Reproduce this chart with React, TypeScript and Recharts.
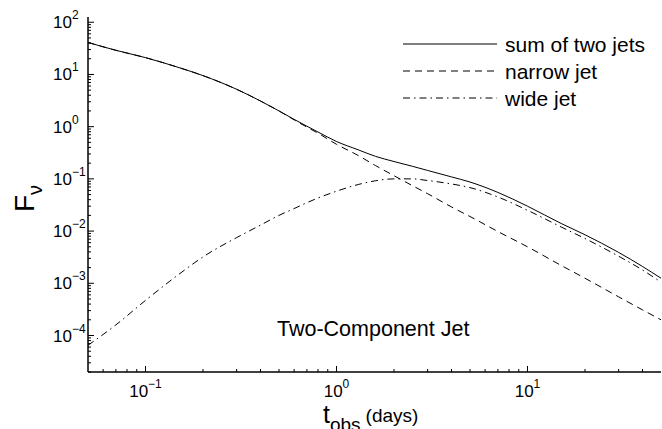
import React from 'react';
import { LineChart, Line, XAxis, YAxis, Customized } from 'recharts';

// Observation time (days)
const tDays = [0.05, 0.07, 0.1, 0.15, 0.2, 0.3, 0.4, 0.5, 0.6, 0.7, 0.8, 1, 1.3, 1.6, 2, 2.5, 3, 4, 5, 7, 10, 15, 20, 30, 40, 50];
// Flux values
const sumOfTwoJets = [41, 29, 21, 13.5, 9.5, 5.2, 3.1, 2.0, 1.38, 1.02, 0.79, 0.52, 0.36, 0.27, 0.215, 0.174, 0.145, 0.109, 0.087, 0.055, 0.03, 0.014, 0.0085, 0.0039, 0.0021, 0.00125];
const narrowJet = [41, 29, 21, 13.5, 9.5, 5.2, 3.1, 2.0, 1.35, 0.98, 0.75, 0.46, 0.28, 0.18, 0.115, 0.074, 0.052, 0.029, 0.019, 0.0098, 0.005, 0.0022, 0.00125, 0.00055, 0.00031, 0.0002];
const wideJet = [6.5e-5, 1.6e-4, 4.7e-4, 1.5e-3, 3.2e-3, 7.5e-3, 0.013, 0.02, 0.027, 0.035, 0.043, 0.058, 0.078, 0.092, 0.1, 0.1, 0.093, 0.08, 0.068, 0.045, 0.025, 0.012, 0.0072, 0.0033, 0.0018, 0.00105];

const xMajorTicks = [0.1, 1, 10];
const xMajorLabels = ['−1', '0', '1'];
const xMinorTicks = [0.06, 0.07, 0.08, 0.09, 0.2, 0.3, 0.4, 0.5, 0.6, 0.7, 0.8, 0.9, 2, 3, 4, 5, 6, 7, 8, 9, 20, 30, 40];
const yMajorTicks = [1e-4, 1e-3, 1e-2, 1e-1, 1, 10, 100];
const yMajorLabels = ['−4', '−3', '−2', '−1', '0', '1', '2'];
const yMinorTicks = [
  2e-5, 3e-5, 4e-5, 5e-5, 6e-5, 7e-5, 8e-5, 9e-5,
  2e-4, 3e-4, 4e-4, 5e-4, 6e-4, 7e-4, 8e-4, 9e-4,
  2e-3, 3e-3, 4e-3, 5e-3, 6e-3, 7e-3, 8e-3, 9e-3,
  0.02, 0.03, 0.04, 0.05, 0.06, 0.07, 0.08, 0.09,
  0.2, 0.3, 0.4, 0.5, 0.6, 0.7, 0.8, 0.9,
  2, 3, 4, 5, 6, 7, 8, 9,
  20, 30, 40, 50, 60, 70, 80, 90,
];
const seriesNames = ['sum of two jets', 'narrow jet', 'wide jet'];
const annotation = 'Two-Component Jet';

const data = tDays.map((t, i) => ({ t, sum: sumOfTwoJets[i], narrow: narrowJet[i], wide: wideJet[i] }));

const FONT = '"Liberation Sans", Arial, Helvetica, sans-serif';
const DASH = '7 5';
const DASHDOT = '7 4 1.5 4';

const isMajor = (v: number, majors: number[]) => majors.some((m) => Math.abs(v / m - 1) < 1e-6);

const XBottomTick = (props: any) => {
  const { x, y, payload } = props;
  const v = payload.value;
  const idx = xMajorTicks.findIndex((m) => Math.abs(v / m - 1) < 1e-6);
  if (idx < 0) {
    return <line x1={x} y1={y} x2={x} y2={y - 3} stroke="#000" strokeWidth={1} />;
  }
  const exp = xMajorLabels[idx];
  return (
    <g>
      <line x1={x} y1={y} x2={x} y2={y - 6} stroke="#000" strokeWidth={1} />
      <text x={x} y={y + 25} textAnchor="middle" fontFamily={FONT} fill="#000">
        <tspan fontSize={17}>10</tspan>
        <tspan fontSize={12} dy={-9}>{exp}</tspan>
      </text>
    </g>
  );
};

const XTopTick = (props: any) => {
  const { x, y, payload } = props;
  const len = isMajor(payload.value, xMajorTicks) ? 6 : 3;
  return <line x1={x} y1={y} x2={x} y2={y + len} stroke="#000" strokeWidth={1} />;
};

const YLeftTick = (props: any) => {
  const { x, y, payload } = props;
  const v = payload.value;
  const idx = yMajorTicks.findIndex((m) => Math.abs(v / m - 1) < 1e-6);
  if (idx < 0) {
    return <line x1={x} y1={y} x2={x + 3} y2={y} stroke="#000" strokeWidth={1} />;
  }
  const exp = yMajorLabels[idx];
  return (
    <g>
      <line x1={x} y1={y} x2={x + 6} y2={y} stroke="#000" strokeWidth={1} />
      <text x={53} y={y + 6} textAnchor="start" fontFamily={FONT} fill="#000">
        <tspan fontSize={17}>10</tspan>
        <tspan fontSize={12} dy={-9}>{exp}</tspan>
      </text>
    </g>
  );
};

const YRightTick = (props: any) => {
  const { x, y, payload } = props;
  const len = isMajor(payload.value, yMajorTicks) ? 6 : 3;
  return <line x1={x} y1={y} x2={x - len} y2={y} stroke="#000" strokeWidth={1} />;
};

const Decorations = () => (
  <g fontFamily={FONT} fill="#000">
    {/* legend */}
    <line x1={403} y1={44} x2={497} y2={44} stroke="#000" strokeWidth={1} />
    <text x={505} y={52} fontSize={21}>{seriesNames[0]}</text>
    <line x1={403} y1={71} x2={497} y2={71} stroke="#000" strokeWidth={1} strokeDasharray={DASH} />
    <text x={505} y={79} fontSize={21}>{seriesNames[1]}</text>
    <line x1={403} y1={98} x2={497} y2={98} stroke="#000" strokeWidth={1} strokeDasharray={DASHDOT} />
    <text x={505} y={106} fontSize={21}>{seriesNames[2]}</text>
    {/* annotation */}
    <text x={277} y={336} fontSize={21.5}>{annotation}</text>
    {/* y label */}
    <text transform="translate(34,212) rotate(-90)" fontSize={28}>
      F<tspan fontSize={20} dy={8}>ν</tspan>
    </text>
    {/* x label */}
    <text x={323} y={423} fontSize={25}>
      t<tspan fontSize={19} dy={8}>obs</tspan>
      <tspan fontSize={19} dy={-9} dx={5}>(days)</tspan>
    </text>
  </g>
);

export default function App() {
  return (
    <div style={{ position: 'absolute', left: 0, top: 0, width: 662, height: 429, background: '#fff' }}>
      <LineChart width={662} height={429} data={data} margin={{ top: 17, right: 1, bottom: 0, left: 0 }}>
        <XAxis
          xAxisId="b"
          dataKey="t"
          type="number"
          scale="log"
          domain={[0.05, 50]}
          allowDataOverflow
          ticks={[...xMajorTicks, ...xMinorTicks]}
          interval={0}
          tick={<XBottomTick />}
          tickLine={false}
          tickSize={0}
          tickMargin={0}
          height={57}
          axisLine={{ stroke: '#000', strokeWidth: 1.5 }}
        />
        <XAxis
          xAxisId="t"
          orientation="top"
          dataKey="t"
          type="number"
          scale="log"
          domain={[0.05, 50]}
          allowDataOverflow
          ticks={[...xMajorTicks, ...xMinorTicks]}
          interval={0}
          tick={<XTopTick />}
          tickLine={false}
          tickSize={0}
          tickMargin={0}
          height={0}
          axisLine={{ stroke: '#000', strokeWidth: 1.5 }}
        />
        <YAxis
          yAxisId="l"
          type="number"
          scale="log"
          domain={[2e-5, 126]}
          allowDataOverflow
          ticks={[...yMajorTicks, ...yMinorTicks]}
          interval={0}
          tick={<YLeftTick />}
          tickLine={false}
          tickSize={0}
          tickMargin={0}
          width={88}
          axisLine={{ stroke: '#000', strokeWidth: 1.5 }}
        />
        <YAxis
          yAxisId="r"
          orientation="right"
          type="number"
          scale="log"
          domain={[2e-5, 126]}
          allowDataOverflow
          ticks={[...yMajorTicks, ...yMinorTicks]}
          interval={0}
          tick={<YRightTick />}
          tickLine={false}
          tickSize={0}
          tickMargin={0}
          width={0}
          axisLine={{ stroke: '#000', strokeWidth: 1.5 }}
        />
        <Line xAxisId="b" yAxisId="l" dataKey="sum" name={seriesNames[0]} type="monotone" stroke="#000" strokeWidth={1} dot={false} isAnimationActive={false} />
        <Line xAxisId="b" yAxisId="l" dataKey="narrow" name={seriesNames[1]} type="monotone" stroke="#000" strokeWidth={1} strokeDasharray={DASH} dot={false} isAnimationActive={false} />
        <Line xAxisId="b" yAxisId="l" dataKey="wide" name={seriesNames[2]} type="monotone" stroke="#000" strokeWidth={1} strokeDasharray={DASHDOT} dot={false} isAnimationActive={false} />
        <Customized component={Decorations} />
      </LineChart>
    </div>
  );
}
